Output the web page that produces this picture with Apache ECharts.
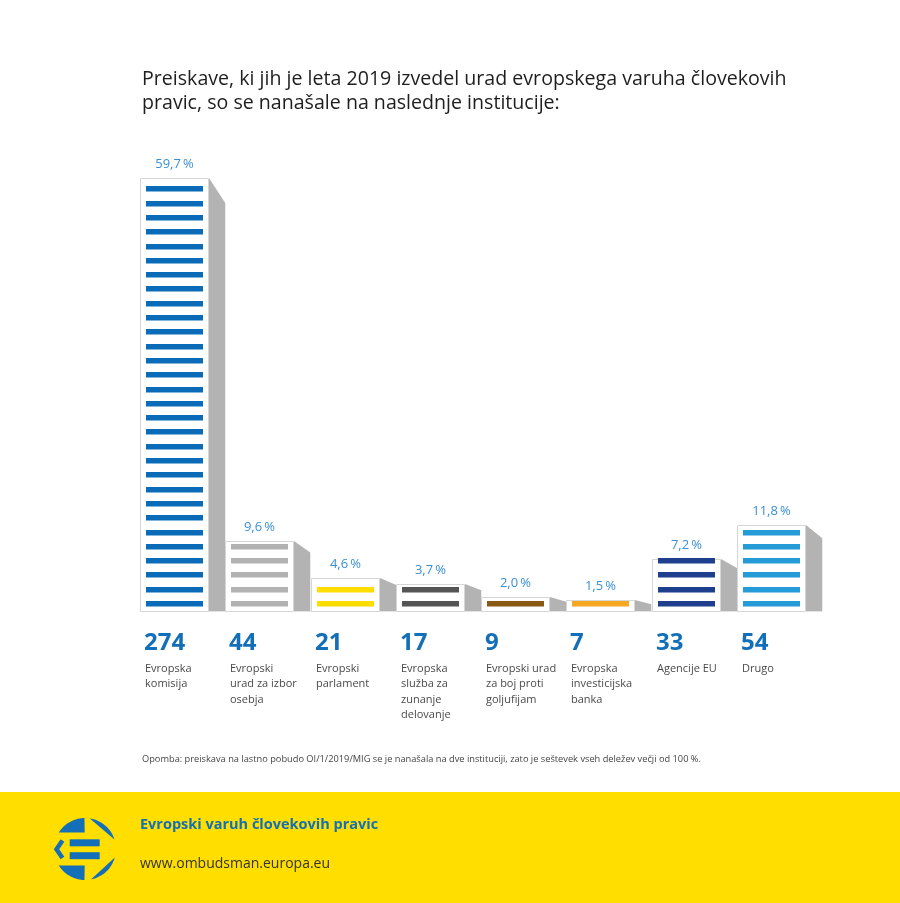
<!DOCTYPE html>
<html>
<head>
<meta charset="utf-8">
<script src="https://cdn.jsdelivr.net/npm/echarts@6/dist/echarts.min.js"></script>
<style>
  html, body { margin: 0; padding: 0; background: #fff; }
  #chart { width: 900px; height: 903px; }
</style>
</head>
<body>
<div id="chart"></div>
<script>
// podatki
var categories = [
    'Evropska\nkomisija',
    'Evropski\nurad za izbor\nosebja',
    'Evropski\nparlament',
    'Evropska\nslužba za\nzunanje\ndelovanje',
    'Evropski urad\nza boj proti\ngoljufijam',
    'Evropska\ninvesticijska\nbanka',
    'Agencije EU',
    'Drugo'
];
var counts = [274, 44, 21, 17, 9, 7, 33, 54];
var shares = [59.7, 9.6, 4.6, 3.7, 2.0, 1.5, 7.2, 11.8];
var stripeColors = ['#0a6cb8', '#b2b2b2', '#ffdd00', '#555555', '#8a5a12', '#f7a823', '#1d3f8e', '#259bd8'];

var blue = '#136fb7';
var yellow = '#ffde00';
var chart = echarts.init(document.getElementById('chart'));

function renderBar(params, api) {
    var i = params.dataIndex;
    var top = api.coord([api.value(0), api.value(1)]);
    var base = api.coord([api.value(0), 0]);
    var bandW = api.size([1, 0])[0];
    var left = Math.round(top[0] - bandW / 2);
    var boxW = Math.round(bandW * 0.81);
    var y0 = Math.round(top[1]);
    var yb = Math.round(base[1]);
    var h = yb - y0;
    var drop = Math.min(25, 3 + h * 0.12);
    var children = [];

    // bočna senca
    children.push({
        type: 'polygon',
        shape: { points: [[left + boxW, y0], [left + bandW, y0 + drop], [left + bandW, yb], [left + boxW, yb]] },
        style: { fill: '#b3b3b3' }
    });
    // škatla
    children.push({
        type: 'rect',
        shape: { x: left + 0.5, y: y0 + 0.5, width: boxW - 1, height: h },
        style: { fill: '#fff', stroke: '#d6d6d6', lineWidth: 1 }
    });
    // črte
    var pitch = 14.3;
    var n = Math.floor((h - 8) / pitch) + 1;
    for (var k = 0; k < n; k++) {
        var sy = yb - 10 - k * pitch;
        children.push({
            type: 'rect',
            shape: { x: left + 6, y: Math.round(sy), width: boxW - 12, height: 5.5 },
            style: { fill: stripeColors[i] }
        });
    }
    // odstotek
    children.push({
        type: 'text',
        style: {
            text: shares[i].toFixed(1).replace('.', ',') + '\u2009%',
            x: left + boxW / 2, y: y0 - 14,
            align: 'center', verticalAlign: 'middle',
            font: '13px "Open Sans"', fill: '#3a8fd2'
        }
    });
    // število
    children.push({
        type: 'text',
        style: {
            text: String(counts[i]),
            x: left + 4, y: yb + 32,
            align: 'left', verticalAlign: 'middle',
            font: 'bold 24px "Open Sans"', fill: blue
        }
    });
    // ime
    children.push({
        type: 'text',
        style: {
            text: categories[i],
            x: left + 5, y: yb + 50,
            align: 'left', verticalAlign: 'top',
            font: '11px "Open Sans"', fill: '#4a4a4a', lineHeight: 15.5
        }
    });
    return { type: 'group', children: children };
}

// logotip - loki kroga
var R = 31;
function arc(a1, a2) {
    var pts = [];
    for (var a = a1; a <= a2 + 0.01; a += 3) {
        var r = a * Math.PI / 180;
        pts.push([R + R * Math.cos(r), R + R * Math.sin(r)]);
    }
    return pts;
}
var capTop = arc(-148, -91).concat([[30.7, 14.6]]);
var capBot = arc(91, 148).concat([[30.7, 47.4]]).reverse();
var wedgeTop = arc(-81, -16);
var wedgeBot = arc(16, 81);

var option = {
    animation: false,
    grid: { left: 140, top: 176, width: 682, bottom: 292, containLabel: false },
    xAxis: {
        type: 'category',
        data: categories,
        axisLine: { show: true, lineStyle: { color: '#e3e3e3', width: 1 } },
        axisTick: { show: false },
        axisLabel: { show: false }
    },
    yAxis: {
        type: 'value', min: 0, max: 60,
        show: false,
        splitLine: { show: false }
    },
    series: [{
        type: 'custom',
        renderItem: renderBar,
        clip: false,
        data: shares.map(function (v, i) { return [i, v]; })
    }],
    graphic: [
        {
            type: 'text', left: 142, top: 67,
            style: {
                text: 'Preiskave, ki jih je leta 2019 izvedel urad evropskega varuha človekovih\npravic, so se nanašale na naslednje institucije:',
                font: '19.6px "Open Sans"', fill: '#1e1e1e', lineHeight: 24
            }
        },
        {
            type: 'text', left: 142, top: 755,
            style: {
                text: 'Opomba: preiskava na lastno pobudo OI/1/2019/MIG se je nanašala na dve instituciji, zato je seštevek vseh deležev večji od 100 %.',
                font: '9.25px "Open Sans"', fill: '#444'
            }
        },
        {
            type: 'rect', left: 0, top: 792, z: -1,
            shape: { width: 900, height: 111 },
            style: { fill: yellow }
        },
        {
            type: 'group', x: 54, y: 818,
            children: [
                { type: 'polygon', shape: { points: capTop }, style: { fill: blue } },
                { type: 'polygon', shape: { points: capBot }, style: { fill: blue } },
                { type: 'polygon', shape: { points: wedgeTop }, style: { fill: blue } },
                { type: 'polygon', shape: { points: wedgeBot }, style: { fill: blue } },
                { type: 'rect', shape: { x: 15.7, y: 21.3, width: 30, height: 7 }, style: { fill: blue } },
                { type: 'rect', shape: { x: 15.7, y: 34.2, width: 30, height: 7 }, style: { fill: blue } },
                { type: 'polyline', shape: { points: [[8.5, 22.5], [2.5, 31.2], [8.5, 40]] }, style: { stroke: blue, lineWidth: 4.5, fill: null } }
            ]
        },
        {
            type: 'text', left: 140, top: 817,
            style: { text: 'Evropski varuh človekovih pravic', font: 'bold 14.5px "Open Sans"', fill: blue }
        },
        {
            type: 'text', left: 140, top: 857,
            style: { text: 'www.ombudsman.europa.eu', font: '14px "Open Sans"', fill: '#333' }
        }
    ]
};
chart.setOption(option);
</script>
</body>
</html>
